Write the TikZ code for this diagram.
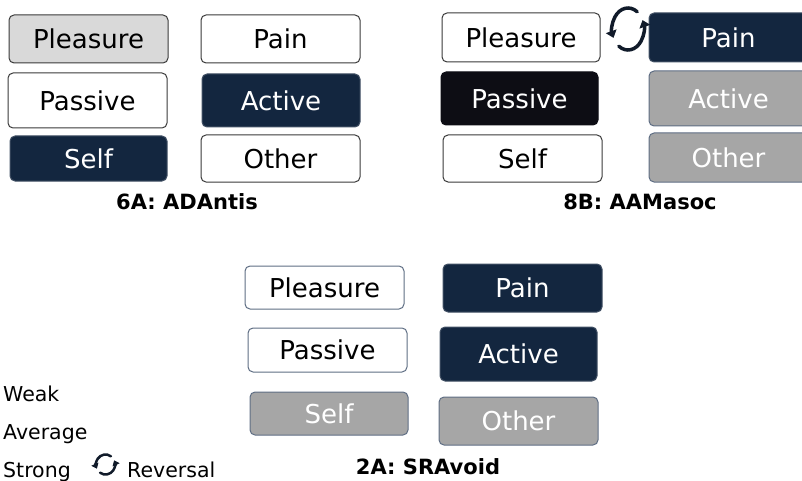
\documentclass[tikz,border=0pt]{standalone}
\usepackage{fontspec}
\setmainfont{DejaVu Sans}
\usetikzlibrary{arrows.meta}
\definecolor{navy}{HTML}{13263F}
\definecolor{inkblack}{HTML}{0D0D14}
\definecolor{lightfill}{HTML}{D9D9D9}
\definecolor{midfill}{HTML}{A6A6A6}
\definecolor{darkedge}{HTML}{3A3A3A}
\definecolor{blueedge}{HTML}{5F6E84}
\definecolor{iconink}{HTML}{111B2A}
\begin{document}
\begin{tikzpicture}[x=1pt,y=-1pt,
    box/.style={rounded corners=5pt,line width=1pt,inner sep=0pt,font=\fontsize{26}{30}\selectfont},
    plain/.style={box,draw=darkedge,fill=white,text=black},
    plainblue/.style={box,draw=blueedge,fill=white,text=black},
    light/.style={box,draw=darkedge,fill=lightfill,text=black},
    strong/.style={box,draw=navy!80!white,fill=navy,text=white},
    darkest/.style={box,draw=inkblack,fill=inkblack,text=white},
    faded/.style={box,draw=blueedge,fill=midfill,text=white},
    caption/.style={font=\bfseries\fontsize{21}{24}\selectfont},
    legend/.style={anchor=base west,inner sep=0pt,font=\fontsize{20.5}{24}\selectfont},
    turn/.style={draw=iconink,line cap=round}]
    \useasboundingbox (0,0) rectangle (802,481);

    % 6A
    \foreach \n/\t/\x/\y/\w/\h/\s in {aPl/Pleasure/88.5/39/159/48/light,aPa/Pain/280.5/39/159/48/plain,
        aPs/Passive/87.5/100.5/159/55/plain,aAc/Active/281/100.5/158/53/strong,
        aSe/Self/88.5/158.5/157/45/strong,aOt/Other/280.5/158.5/159/47/plain}{
        \node[\s,minimum width=\w,minimum height=\h] (\n) at (\x,\y) {\t};
    }
    \node[caption] (capA) at (187,202) {6A: ADAntis};

    % 8B
    \foreach \n/\t/\x/\y/\w/\h/\s in {bPl/Pleasure/521/37.5/158/49/plain,bPa/Pain/728.5/37.5/159/49/strong,
        bPs/Passive/519.5/98.5/157/53/darkest,bAc/Active/728.5/98.5/159/55/faded,
        bSe/Self/522.5/158.5/159/47/plain,bOt/Other/728.5/157.5/159/49/faded}{
        \node[\s,minimum width=\w,minimum height=\h] (\n) at (\x,\y) {\t};
    }
    \node[caption] (capB) at (640,202) {8B: AAMasoc};
    \coordinate (swapB) at (628,29);
    \draw[turn,line width=3.5pt,-{Triangle[length=7pt,width=11pt]}] (swapB) ++(-55:16 and 21) arc[start angle=-55,end angle=-205,x radius=16,y radius=21];
    \draw[turn,line width=3.5pt,-{Triangle[length=7pt,width=11pt]}] (swapB) ++(-235:16 and 21) arc[start angle=-235,end angle=-385,x radius=16,y radius=21];

    % 2A
    \foreach \n/\t/\x/\y/\w/\h/\s in {cPl/Pleasure/324.5/287.5/159/43/plainblue,cPa/Pain/522.5/288/159/48/strong,
        cPs/Passive/327.5/350/159/44/plainblue,cAc/Active/518.5/354/157/54/strong,
        cSe/Self/329/413.5/158/43/faded,cOt/Other/518.5/421/159/48/faded}{
        \node[\s,minimum width=\w,minimum height=\h] (\n) at (\x,\y) {\t};
    }
    \node[caption] (capC) at (428,467) {2A: SRAvoid};

    % legend
    \node[legend] (weak) at (3,401) {Weak};
    \node[legend] (avg) at (3,439) {Average};
    \node[legend] (strg) at (3,477) {Strong};
    \node[legend] (rev) at (127,477.5) {Reversal};
    \coordinate (swapL) at (105.5,464.5);
    \draw[turn,line width=2.5pt,-{Triangle[length=5pt,width=7.5pt]}] (swapL) ++(-55:9.5 and 10) arc[start angle=-55,end angle=-205,x radius=9.5,y radius=10];
    \draw[turn,line width=2.5pt,-{Triangle[length=5pt,width=7.5pt]}] (swapL) ++(-235:9.5 and 10) arc[start angle=-235,end angle=-385,x radius=9.5,y radius=10];
\end{tikzpicture}
\end{document}
